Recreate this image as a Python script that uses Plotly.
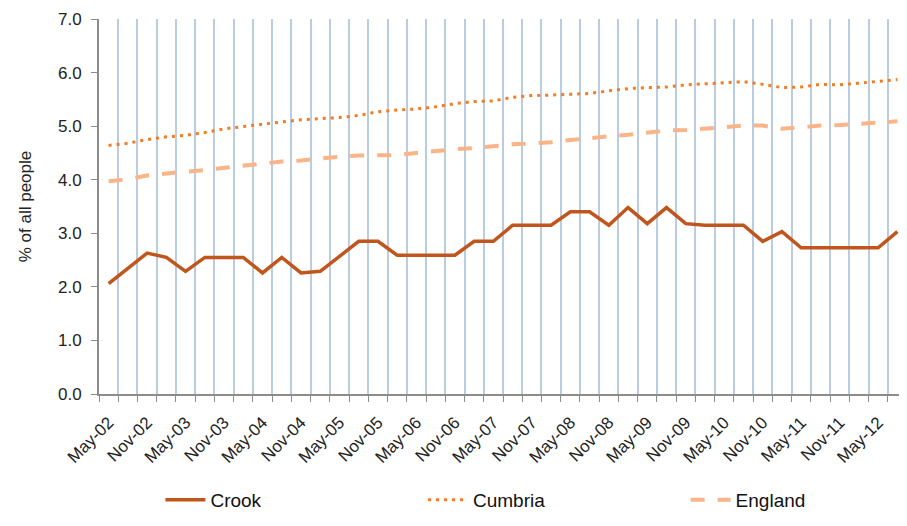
import plotly.graph_objects as go

quarters = ["May-02","Aug-02","Nov-02","Feb-03","May-03","Aug-03","Nov-03","Feb-04",
            "May-04","Aug-04","Nov-04","Feb-05","May-05","Aug-05","Nov-05","Feb-06",
            "May-06","Aug-06","Nov-06","Feb-07","May-07","Aug-07","Nov-07","Feb-08",
            "May-08","Aug-08","Nov-08","Feb-09","May-09","Aug-09","Nov-09","Feb-10",
            "May-10","Aug-10","Nov-10","Feb-11","May-11","Aug-11","Nov-11","Feb-12",
            "May-12","Aug-12"]

crook = [2.06, 2.35, 2.63, 2.55, 2.29, 2.55, 2.55, 2.55, 2.26, 2.55, 2.26, 2.29,
         2.57, 2.85, 2.85, 2.59, 2.59, 2.59, 2.59, 2.85, 2.85, 3.15, 3.15, 3.15,
         3.40, 3.40, 3.15, 3.48, 3.18, 3.48, 3.18, 3.15, 3.15, 3.15, 2.85, 3.03,
         2.73, 2.73, 2.73, 2.73, 2.73, 3.03]

cumbria = [4.64, 4.68, 4.75, 4.80, 4.83, 4.88, 4.95, 4.99, 5.04, 5.08, 5.12, 5.14,
           5.16, 5.20, 5.27, 5.30, 5.32, 5.36, 5.42, 5.46, 5.47, 5.54, 5.57, 5.58,
           5.60, 5.61, 5.66, 5.70, 5.72, 5.73, 5.77, 5.79, 5.80, 5.83, 5.78, 5.72,
           5.73, 5.78, 5.77, 5.80, 5.83, 5.87]

england = [3.97, 4.01, 4.08, 4.12, 4.15, 4.18, 4.22, 4.27, 4.31, 4.34, 4.36, 4.40,
           4.43, 4.45, 4.45, 4.46, 4.50, 4.54, 4.57, 4.59, 4.63, 4.66, 4.68, 4.70,
           4.74, 4.78, 4.81, 4.84, 4.88, 4.92, 4.93, 4.95, 4.98, 5.01, 5.01, 4.95,
           4.98, 5.01, 5.02, 5.04, 5.06, 5.09]

y_ticks = [0, 1, 2, 3, 4, 5, 6, 7]

x = list(range(len(quarters)))
label_idx = x[::2]
label_txt = [quarters[i] for i in label_idx]

fig = go.Figure()
fig.add_trace(go.Scatter(x=x, y=crook, name="Crook", mode="lines",
                         line=dict(color="#C0561B", width=3.5)))
fig.add_trace(go.Scatter(x=x, y=cumbria, name="Cumbria", mode="lines",
                         line=dict(color="#F47B20", width=3, dash="3px,5px")))
fig.add_trace(go.Scatter(x=x, y=england, name="England", mode="lines",
                         line=dict(color="#F9B487", width=4, dash="14px,13px")))

fig.update_layout(
    width=899, height=510,
    margin=dict(l=91, r=0, t=11, b=124, autoexpand=False),
    plot_bgcolor="white", paper_bgcolor="white",
    font=dict(family="Liberation Sans, Arial, sans-serif", color="#222222"),
    showlegend=True,
    legend=dict(orientation="h", x=0.076, xanchor="left", y=-0.232, yanchor="top",
                font=dict(size=19, color="#111111"),
                entrywidth=0.325, entrywidthmode="fraction", itemwidth=40,
                tracegroupgap=0),
    xaxis=dict(
        range=[-0.5, len(quarters) - 0.5],
        tickmode="array", tickvals=label_idx, ticktext=label_txt,
        tickangle=-45, tickfont=dict(size=17, color="#222222"),
        ticks="", showgrid=False, zeroline=False, automargin=False,
        ticklabelstandoff=10,
        showline=True, linecolor="#8C8C8C", linewidth=2,
        minor=dict(tickmode="linear", tick0=-0.5, dtick=1, showgrid=True,
                   gridcolor="#B8CCE4", gridwidth=2, ticks="outside",
                   ticklen=6, tickcolor="#8C8C8C", tickwidth=1),
    ),
    yaxis=dict(
        range=[0, 7], tickmode="array", tickvals=y_ticks,
        tickformat=".1f", tickfont=dict(size=17, color="#222222"),
        ticks="outside", ticklen=6, tickcolor="#8C8C8C", automargin=False,
        ticklabelstandoff=6,
        showgrid=False, zeroline=False,
        showline=True, linecolor="#8C8C8C", linewidth=2,
        title=dict(text="% of all people", font=dict(size=17, color="#222222"), standoff=22),
    ),
)

fig.write_html("out.html")
